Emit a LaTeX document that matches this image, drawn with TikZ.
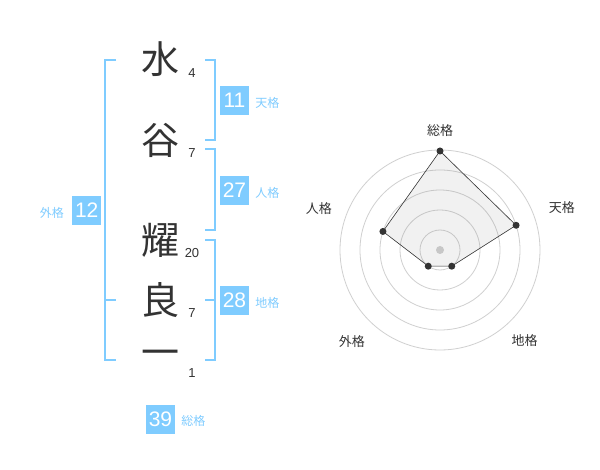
\documentclass[tikz,border=0pt]{standalone}
\usepackage{fontspec}
\setmainfont{Liberation Sans}
\newfontfamily\jpfont{Noto Sans CJK JP}
\usetikzlibrary{positioning}
\definecolor{KakuClr}{RGB}{127,204,255}
\definecolor{InkClr}{RGB}{51,51,51}
\definecolor{RingClr}{RGB}{208,208,208}
\definecolor{AreaClr}{RGB}{120,120,120}

\tikzset{
  kanji/.style={font=\jpfont\fontsize{38}{38}\selectfont,text=InkClr,inner sep=0pt},
  strokes/.style={font=\fontsize{13}{13}\selectfont,text=InkClr,inner sep=0pt},
  kakubox/.style={fill=KakuClr,text=white,minimum size=29pt,inner sep=0pt,font=\fontsize{21}{21}\selectfont},
  kakuname/.style={font=\jpfont\fontsize{12}{12}\selectfont,text=KakuClr,inner sep=0pt,yshift=-2pt},
  bracket/.style={draw=KakuClr,line width=2pt},
  axisname/.style={font=\jpfont\fontsize{13}{13}\selectfont,text=InkClr,inner sep=0pt},
}

\begin{document}
\begin{tikzpicture}[x=1pt,y=-1pt]
\useasboundingbox[fill=white] (0,0) rectangle (600,470);

\node[kanji] (c1) at (160,59) {水};
\node[kanji] (c2) at (160,140) {谷};
\node[kanji] (c3) at (160,240) {耀};
\node[kanji] (c4) at (160,300) {良};
\node[kanji] (c5) at (160,358) {一};

\node[strokes] (n1) at (192,73) {4};
\node[strokes] (n2) at (192,153) {7};
\node[strokes] (n3) at (192,253) {20};
\node[strokes] (n4) at (192,313) {7};
\node[strokes] (n5) at (192,373) {1};

\draw[bracket] (116,60) -- (105,60) -- (105,360) -- (116,360);
\draw[bracket] (105,300) -- (116,300);
\draw[bracket] (205,60) -- (215,60) -- (215,140) -- (205,140);
\draw[bracket] (205,149) -- (215,149) -- (215,230) -- (205,230);
\draw[bracket] (205,240) -- (215,240) -- (215,360) -- (205,360);
\draw[bracket] (205,300) -- (215,300);

\node[kakubox] (ten) at (234.5,100.5) {11};
\node[kakubox] (jin) at (234.5,190.5) {27};
\node[kakubox] (chi) at (234.5,300.5) {28};
\node[kakubox] (gai) at (86.7,210.5) {12};
\node[kakubox] (sou) at (160.5,419) {39};

\node[kakuname] (tenL) [right=6pt of ten] {天格};
\node[kakuname] (jinL) [right=6pt of jin] {人格};
\node[kakuname] (chiL) [right=6pt of chi] {地格};
\node[kakuname] (gaiL) [left=8pt of gai] {外格};
\node[kakuname] (souL) [right=6pt of sou] {総格};

\begin{scope}[shift={(440,250)},yscale=-1]
\foreach \r in {20,40,60,80,100}
  \draw[RingClr,line width=0.8pt] (0,0) circle (\r);
\fill[RingClr] (0,0) circle (4);

\coordinate (S) at (90:99);
\coordinate (T) at (18:80);
\coordinate (C) at (-54:20);
\coordinate (G) at (-126:20);
\coordinate (J) at (162:60);

\fill[AreaClr,fill opacity=0.1] (S) -- (T) -- (C) -- (G) -- (J) -- cycle;
\draw[InkClr,line width=0.6pt] (S) -- (T) -- (C) -- (G) -- (J) -- cycle;
\foreach \p in {S,T,C,G,J}
  \fill[InkClr] (\p) circle (3.5);

\node[axisname] (souA) at (90:119) {総格};
\node[axisname] (tenA) at (19:129) {天格};
\node[axisname] (chiA) at (-47:124) {地格};
\node[axisname] (gaiA) at (-134:127) {外格};
\node[axisname] (jinA) at (161:128) {人格};
\end{scope}

\end{tikzpicture}
\end{document}
